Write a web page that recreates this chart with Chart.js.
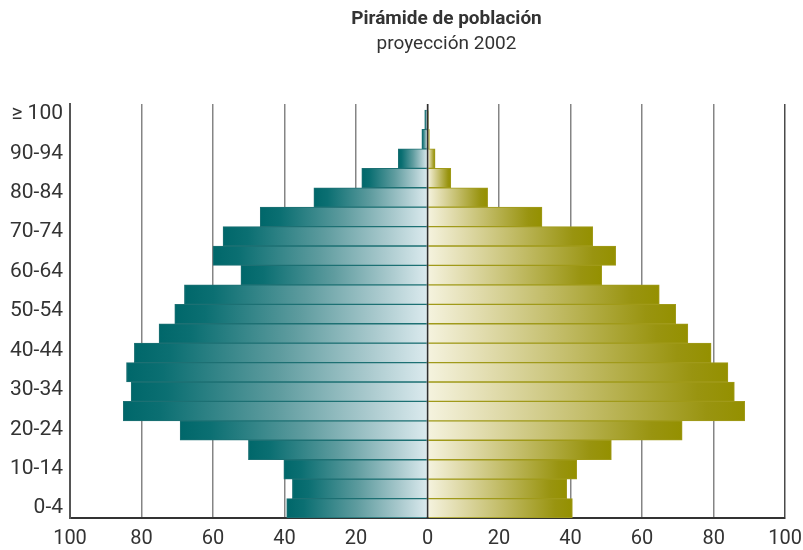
<!DOCTYPE html>
<html>
<head>
<meta charset="utf-8">
<script src="https://cdn.jsdelivr.net/npm/chart.js@4/dist/chart.umd.min.js"></script>
<style>
  html, body { margin: 0; padding: 0; background: #ffffff; }
  #wrap { width: 803px; height: 550px; position: relative; }
</style>
</head>
<body>
<div id="wrap"><canvas id="c" width="803" height="550"></canvas></div>
<script>
// Age groups, from youngest (bottom) to oldest (top)
const categories = ['0-4','5-9','10-14','15-19','20-24','25-29','30-34','35-39','40-44','45-49',
                    '50-54','55-59','60-64','65-69','70-74','75-79','80-84','85-89','90-94','95-99','≥ 100'];
// Left side (teal) values
const maleValues = [39.4, 37.8, 40.2, 50.1, 69.2, 85.1, 82.9, 84.2, 82.0, 75.1,
                    70.7, 68.0, 52.2, 60.0, 57.2, 46.8, 31.8, 18.4, 8.2, 1.6, 0.8];
// Right side (olive) values
const femaleValues = [40.5, 38.9, 41.7, 51.4, 71.2, 88.7, 85.8, 84.0, 79.3, 72.8,
                      69.4, 64.8, 48.7, 52.6, 46.2, 32.0, 16.8, 6.5, 2.1, 0.5, 0.2];
const titleText = 'Pirámide de población';
const subtitleText = 'proyección 2002';

const FONT = 'Roboto, "Open Sans", sans-serif';

function barGradient(context, stops) {
  const chart = context.chart;
  if (!chart.chartArea || !context.raw) return stops[stops.length - 1][1];
  const xs = chart.scales.x;
  const xEnd = xs.getPixelForValue(context.raw.x);
  const x0 = xs.getPixelForValue(0);
  if (Math.abs(xEnd - x0) < 0.5) return stops[0][1];
  const g = chart.ctx.createLinearGradient(xEnd, 0, x0, 0);
  stops.forEach(s => g.addColorStop(s[0], s[1]));
  return g;
}
const maleStops = [[0, '#00676a'], [0.12, '#0b6f72'], [0.5, '#5f9c9f'], [0.8, '#a9c9cd'], [1, '#dbeaee']];
const femaleStops = [[0, '#949000'], [0.12, '#999410'], [0.5, '#c3bd6a'], [0.8, '#e2ddb0'], [1, '#f5f3df']];

const zeroLine = {
  id: 'zeroLine',
  afterDatasetsDraw(chart) {
    const { ctx, chartArea, scales } = chart;
    const px = scales.x.getPixelForValue(0);
    ctx.save();
    ctx.strokeStyle = '#2f2f2f';
    ctx.lineWidth = 1.5;
    ctx.beginPath();
    ctx.moveTo(px, chartArea.top);
    ctx.lineTo(px, chartArea.bottom);
    ctx.stroke();
    ctx.restore();
  }
};

const titles = {
  id: 'titles',
  afterDraw(chart) {
    const ctx = chart.ctx;
    const cx = chart.width / 2 + 45;
    ctx.save();
    ctx.fillStyle = '#333333';
    ctx.textAlign = 'center';
    ctx.textBaseline = 'middle';
    ctx.font = 'bold 19px ' + FONT;
    ctx.fillText(titleText, cx, 19);
    ctx.font = '19px ' + FONT;
    ctx.fillText(subtitleText, cx, 44);
    ctx.restore();
  }
};

new Chart(document.getElementById('c'), {
  type: 'bar',
  data: {
    labels: categories,
    datasets: [
      {
        label: 'left',
        data: maleValues.map((v, i) => ({ x: -v, y: i })),
        backgroundColor: (ctx) => barGradient(ctx, maleStops),
        borderColor: '#1d7073',
        borderWidth: 1,
        grouped: false,
        barPercentage: 1,
        categoryPercentage: 1,
        xAxisID: 'x',
        yAxisID: 'y'
      },
      {
        label: 'right',
        data: femaleValues.map((v, i) => ({ x: v, y: i })),
        backgroundColor: (ctx) => barGradient(ctx, femaleStops),
        borderColor: '#a09a1a',
        borderWidth: 1,
        grouped: false,
        barPercentage: 1,
        categoryPercentage: 1,
        xAxisID: 'x',
        yAxisID: 'y'
      }
    ]
  },
  options: {
    indexAxis: 'y',
    responsive: false,
    animation: false,
    layout: { padding: { top: 104, right: 16, left: 0, bottom: 0 } },
    plugins: {
      legend: { display: false },
      title: { display: false },
      tooltip: { enabled: false }
    },
    scales: {
      x: {
        type: 'linear',
        min: -100,
        max: 100,
        ticks: {
          stepSize: 20,
          callback: (v) => Math.abs(v),
          font: { family: FONT, size: 20, lineHeight: 1 },
          color: '#333333',
          padding: 1,
          maxRotation: 0
        },
        grid: {
          drawTicks: true,
          tickLength: 10,
          tickColor: 'rgba(0,0,0,0)',
          color: (c) => (c.tick && Math.abs(c.tick.value) === 100) ? '#4a4a4a' : '#858585',
          lineWidth: 1.5
        },
        border: { display: true, color: '#333333', width: 2 }
      },
      y: {
        type: 'linear',
        display: false,
        offset: false,
        grid: { offset: false },
        min: -0.5,
        max: 20.81,
        afterBuildTicks: (s) => { s.ticks = categories.map((c, i) => ({ value: i })); }
      },
      y2: {
        type: 'category',
        position: 'left',
        labels: categories,
        reverse: true,
        offset: true,
        grid: { display: false, drawTicks: false },
        border: { display: true, color: '#555555', width: 2 },
        ticks: {
          autoSkip: false,
          callback: (v, i) => (i % 2 === 0 ? categories[i] : ''),
          font: { family: FONT, size: 21 },
          color: '#333333',
          padding: 7
        },
        afterFit: (s) => { s.width = 70; }
      }
    }
  },
  plugins: [zeroLine, titles]
});
</script>
</body>
</html>
